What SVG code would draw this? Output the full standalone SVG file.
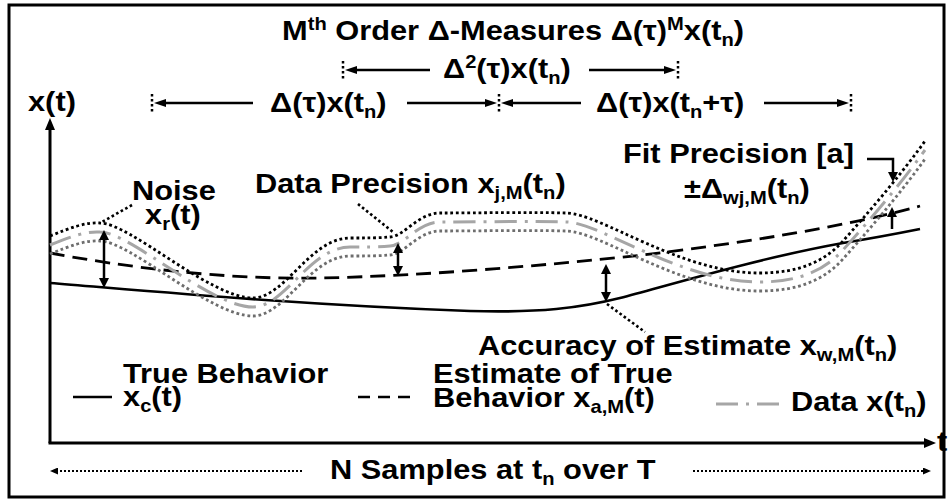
<svg xmlns="http://www.w3.org/2000/svg" width="952" height="501" viewBox="0 0 952 501">
<style>
.t{font-family:"Liberation Sans",Arial,sans-serif;font-weight:bold;font-size:27.5px;fill:#000}
.s{font-size:18px}
.ln{fill:none;stroke:#000;stroke-width:2.5}
.ax{fill:none;stroke:#000;stroke-width:3}
.tick{fill:none;stroke:#000;stroke-width:2.5;stroke-dasharray:2.5 2.5}
.lead{fill:none;stroke:#000;stroke-width:2.6;stroke-dasharray:2.6 2.6}
.bot{fill:none;stroke:#000;stroke-width:2;stroke-dasharray:2 2}
.true{fill:none;stroke:#000;stroke-width:2.6}
.est{fill:none;stroke:#000;stroke-width:2.8;stroke-dasharray:15 8}
.data{fill:none;stroke:#a6a6a6;stroke-width:3;stroke-dasharray:22 8 3 8}
.up{fill:none;stroke:#000;stroke-width:2.8;stroke-dasharray:2.8 2.8}
.lo{fill:none;stroke:#6e6e6e;stroke-width:2.8;stroke-dasharray:2.8 2.8}
</style>
<defs>
<marker id="a" viewBox="0 0 10 10" refX="3" refY="5" markerWidth="10" markerHeight="10" markerUnits="userSpaceOnUse" orient="auto-start-reverse" preserveAspectRatio="none"><path d="M0,0L10,5L0,10z"/></marker>
<marker id="b" viewBox="0 0 12 8" refX="4" refY="4" markerWidth="12" markerHeight="8" markerUnits="userSpaceOnUse" orient="auto-start-reverse" preserveAspectRatio="none"><path d="M0,0L12,4L0,8z"/></marker>
<marker id="c" viewBox="0 0 12 10" refX="4" refY="5" markerWidth="12" markerHeight="10" markerUnits="userSpaceOnUse" orient="auto-start-reverse" preserveAspectRatio="none"><path d="M0,0L12,5L0,10z"/></marker>
<marker id="d" viewBox="0 0 8 7" refX="2" refY="3.5" markerWidth="8" markerHeight="7" markerUnits="userSpaceOnUse" orient="auto-start-reverse" preserveAspectRatio="none"><path d="M0,0L8,3.5L0,7z"/></marker>
</defs>
<rect x="9" y="5" width="935" height="492" fill="#fff" stroke="#000" stroke-width="3"/>

<g id="axes">
<line class="ax" x1="50" y1="443" x2="50" y2="126" marker-end="url(#c)"/>
<line class="ax" x1="48.5" y1="443" x2="928" y2="443" marker-end="url(#c)"/>
<text class="t" transform="translate(28,111) scale(1.12,1)">x(t)</text>
<text class="t" transform="translate(937,451) scale(1.12,1)">t</text>
</g>

<g id="curves">
<path id="true" class="true" d="M50,283 C150,291 300,305 470,311 C540,313 580,308 620,298 C680,282 760,258 843,243 C880,237 900,233 920,229"/>
<path id="estimate" class="est" d="M50,253 C120,266 220,280 320,278 C420,276 540,266 643,255 C740,243 840,228 920,206"/>
<g id="datacurve">
<path id="dp" class="data" d="M50,245 C70,237 85,231 100,232 C130,232 210,307 253,307 C285,307 310,247 350,247 C365,247 378,247 390,246 C405,245 418,222 440,222 C480,222 530,221 566,222 C600,222 680,282 759,282 C800,282 825,270 843,250 C868,222 900,185 925,150"/>
<path class="up" transform="translate(0,-9)" d="M50,245 C70,237 85,231 100,232 C130,232 210,307 253,307 C285,307 310,247 350,247 C365,247 378,247 390,246 C405,245 418,222 440,222 C480,222 530,221 566,222 C600,222 680,282 759,282 C800,282 825,270 843,250 C868,222 900,185 925,150"/>
<path class="lo" transform="translate(0,9)" d="M50,245 C70,237 85,231 100,232 C130,232 210,307 253,307 C285,307 310,247 350,247 C365,247 378,247 390,246 C405,245 418,222 440,222 C480,222 530,221 566,222 C600,222 680,282 759,282 C800,282 825,270 843,250 C868,222 900,185 925,150"/>
</g>
</g>

<g id="title"><text class="t" transform="translate(282,40) scale(1.12,1)">M<tspan class="s" dy="-10">th</tspan><tspan dy="10"> Order Δ-Measures Δ(τ)</tspan><tspan class="s" dy="-10">M</tspan><tspan dy="10">x(t</tspan><tspan class="s" dy="6">n</tspan><tspan dy="-6">)</tspan></text></g>

<g id="delta2"><text class="t" transform="translate(443,78) scale(1.12,1)">Δ<tspan class="s" dy="-10">2</tspan><tspan dy="10">(τ)x(t</tspan><tspan class="s" dy="6">n</tspan><tspan dy="-6">)</tspan></text></g>
<g id="delta1"><text class="t" transform="translate(270,112) scale(1.12,1)">Δ(τ)x(t<tspan class="s" dy="6">n</tspan><tspan dy="-6">)</tspan></text></g>
<g id="delta1b"><text class="t" transform="translate(596,112) scale(1.12,1)">Δ(τ)x(t<tspan class="s" dy="6">n</tspan><tspan dy="-6">+τ)</tspan></text></g>

<g id="noise"><text class="t" transform="translate(132,200) scale(1.12,1)">Noise</text><text class="t" transform="translate(145,224) scale(1.12,1)">x<tspan class="s" dy="6">r</tspan><tspan dy="-6">(t)</tspan></text></g>
<g id="dataprecision"><text class="t" transform="translate(255,193) scale(1.12,1)">Data Precision x<tspan class="s" dy="6">j,M</tspan><tspan dy="-6">(t</tspan><tspan class="s" dy="6">n</tspan><tspan dy="-6">)</tspan></text></g>
<g id="fitprecision"><text class="t" transform="translate(623,163) scale(1.12,1)">Fit Precision [a]</text><text class="t" transform="translate(684,198) scale(1.12,1)">±Δ<tspan class="s" dy="6">wj,M</tspan><tspan dy="-6">(t</tspan><tspan class="s" dy="6">n</tspan><tspan dy="-6">)</tspan></text></g>
<g id="accuracy"><text class="t" transform="translate(478,355) scale(1.12,1)">Accuracy of Estimate x<tspan class="s" dy="6">w,M</tspan><tspan dy="-6">(t</tspan><tspan class="s" dy="6">n</tspan><tspan dy="-6">)</tspan></text></g>

<g id="legend-true"><line class="true" x1="73" y1="397" x2="112" y2="397"/><text class="t" transform="translate(123,383) scale(1.12,1)">True Behavior</text><text class="t" transform="translate(123,406) scale(1.12,1)">x<tspan class="s" dy="6">c</tspan><tspan dy="-6">(t)</tspan></text></g>
<g id="legend-estimate"><line class="true" x1="358" y1="397" x2="410" y2="397" stroke-dasharray="12 8"/><text class="t" transform="translate(433,383) scale(1.12,1)">Estimate of True</text><text class="t" transform="translate(433,407) scale(1.12,1)">Behavior x<tspan class="s" dy="6">a,M</tspan><tspan dy="-6">(t)</tspan></text></g>
<g id="legend-data"><line class="data" x1="716" y1="404" x2="779" y2="404"/><text class="t" transform="translate(791,411) scale(1.12,1)">Data x(t<tspan class="s" dy="6">n</tspan><tspan dy="-6">)</tspan></text></g>

<g id="samples"><text class="t" transform="translate(330,479) scale(1.12,1)">N Samples at t<tspan class="s" dy="6">n</tspan><tspan dy="-6"> over T</tspan></text></g>

<g id="connectors">
<line class="tick" x1="343" y1="61" x2="343" y2="80"/>
<line class="tick" x1="678" y1="61" x2="678" y2="80"/>
<line class="ln" x1="430" y1="70" x2="353" y2="70" marker-end="url(#b)"/>
<line class="ln" x1="589" y1="70" x2="668" y2="70" marker-end="url(#b)"/>
<line class="tick" x1="152" y1="94" x2="152" y2="113"/>
<line class="tick" x1="499" y1="94" x2="499" y2="113"/>
<line class="tick" x1="851" y1="94" x2="851" y2="113"/>
<line class="ln" x1="253" y1="103" x2="162" y2="103" marker-end="url(#b)"/>
<line class="ln" x1="407" y1="103" x2="489" y2="103" marker-end="url(#b)"/>
<line class="ln" x1="581" y1="103" x2="509" y2="103" marker-end="url(#b)"/>
<line class="ln" x1="764" y1="103" x2="841" y2="103" marker-end="url(#b)"/>
<line class="ln" x1="104" y1="237" x2="104" y2="281" marker-start="url(#a)" marker-end="url(#a)"/>
<line class="ln" x1="398" y1="250" x2="398" y2="269" marker-start="url(#a)" marker-end="url(#a)"/>
<line class="ln" x1="606" y1="271" x2="606" y2="295" marker-start="url(#a)" marker-end="url(#a)"/>
<line class="lead" x1="132" y1="205" x2="102" y2="222"/>
<line class="lead" x1="358" y1="204" x2="393" y2="232"/>
<line class="lead" x1="607" y1="304" x2="645" y2="332"/>
<polyline class="ln" points="867,159 893,159 893,175" marker-end="url(#a)"/>
<line class="ln" x1="892" y1="229" x2="892" y2="214" marker-end="url(#a)"/>
<line class="bot" x1="302" y1="471" x2="56" y2="471" marker-end="url(#d)"/>
<line class="bot" x1="693" y1="471" x2="925" y2="471" marker-end="url(#d)"/>
</g>
</svg>
